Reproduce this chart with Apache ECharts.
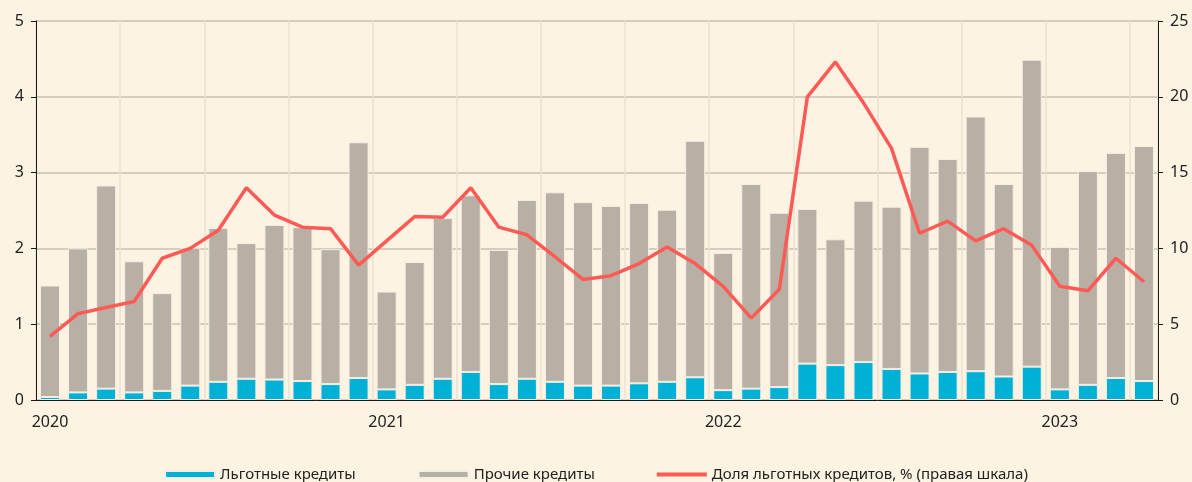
<!DOCTYPE html>
<html lang="ru">

<head>
    <meta charset="UTF-8">
    <title>Льготные кредиты</title>
    <script src="https://cdn.jsdelivr.net/npm/echarts@6.0.0/dist/echarts.min.js"></script>
    <style>
        html, body { margin: 0; padding: 0; background: #fcf3e3; }
    </style>
</head>

<body>
    <div id="main" style="width: 1192px; height: 482px;"></div>
    <script type="text/javascript">
        // months, Jan 2020 .. Apr 2023
        const months = [
            '2020-01', '2020-02', '2020-03', '2020-04', '2020-05', '2020-06', '2020-07', '2020-08', '2020-09', '2020-10', '2020-11', '2020-12',
            '2021-01', '2021-02', '2021-03', '2021-04', '2021-05', '2021-06', '2021-07', '2021-08', '2021-09', '2021-10', '2021-11', '2021-12',
            '2022-01', '2022-02', '2022-03', '2022-04', '2022-05', '2022-06', '2022-07', '2022-08', '2022-09', '2022-10', '2022-11', '2022-12',
            '2023-01', '2023-02', '2023-03', '2023-04'
        ];

        // Льготные кредиты (left axis)
        const preferential = [
            0.04, 0.10, 0.15, 0.10, 0.12, 0.19, 0.24, 0.28, 0.27, 0.25, 0.21, 0.29,
            0.14, 0.20, 0.28, 0.37, 0.21, 0.28, 0.24, 0.19, 0.19, 0.22, 0.24, 0.30,
            0.13, 0.15, 0.17, 0.48, 0.46, 0.50, 0.41, 0.35, 0.37, 0.38, 0.31, 0.44,
            0.14, 0.20, 0.29, 0.25
        ];

        // Прочие кредиты (stacked on top)
        const other = [
            1.47, 1.90, 2.68, 1.73, 1.29, 1.82, 2.03, 1.79, 2.04, 2.03, 1.78, 3.11,
            1.29, 1.62, 2.12, 2.33, 1.77, 2.36, 2.50, 2.42, 2.37, 2.38, 2.27, 3.12,
            1.81, 2.70, 2.30, 2.04, 1.66, 2.13, 2.14, 2.99, 2.81, 3.36, 2.54, 4.05,
            1.88, 2.82, 2.97, 3.10
        ];

        // Доля льготных кредитов, % (right axis)
        const share = [
            4.2, 5.7, 6.1, 6.5, 9.35, 10.0, 11.2, 14.0, 12.2, 11.4, 11.3, 8.9,
            10.5, 12.1, 12.05, 14.0, 11.4, 10.9, 9.45, 7.95, 8.2, 9.0, 10.1, 9.0,
            7.5, 5.4, 7.3, 20.0, 22.3, 19.6, 16.6, 11.0, 11.8, 10.5, 11.3, 10.2,
            7.5, 7.2, 9.35, 7.8
        ];

        const leftTicks = [0, 5, 1];   // min, max, interval
        const rightTicks = [0, 25, 5];

        const font = '"Noto Sans", "DejaVu Sans", sans-serif';
        const bg = '#fcf3e3';

        let myChart = echarts.init(document.getElementById('main'));

        const options = {
            backgroundColor: bg,
            animation: false,
            textStyle: { fontFamily: font },
            grid: { left: 36, right: 34, top: 21, bottom: 82 },
            legend: {
                top: 462,
                left: 'center',
                itemGap: 62,
                itemWidth: 50,
                itemHeight: 7,
                textStyle: { fontSize: 15, color: '#222', fontFamily: font },
                data: [
                    { name: 'Льготные кредиты', icon: 'rect' },
                    { name: 'Прочие кредиты', icon: 'rect' },
                    { name: 'Доля льготных кредитов, % (правая шкала)', icon: 'path://M0,4 L50,4 L50,8 L0,8 Z' }
                ]
            },
            xAxis: {
                type: 'category',
                data: months,
                boundaryGap: true,
                axisLine: { lineStyle: { color: '#1a1a1a', width: 1 } },
                axisTick: {
                    interval: (i) => i % 12 === 0,
                    length: 6,
                    lineStyle: { color: '#1a1a1a' }
                },
                axisLabel: {
                    interval: (i) => i % 12 === 0,
                    formatter: (v) => v.slice(0, 4),
                    fontSize: 16,
                    color: '#222',
                    margin: 14
                },
                splitLine: {
                    show: true,
                    interval: (i) => i % 3 === 0,
                    lineStyle: { color: '#ece2d0', width: 1.5 }
                }
            },
            yAxis: [
                {
                    type: 'value',
                    min: leftTicks[0],
                    max: leftTicks[1],
                    interval: leftTicks[2],
                    axisLine: { show: true, lineStyle: { color: '#1a1a1a' } },
                    axisTick: { show: true, length: 5, lineStyle: { color: '#1a1a1a' } },
                    axisLabel: { fontSize: 16, color: '#222', margin: 12 },
                    splitLine: { lineStyle: { color: '#c9c1b4', width: 1.5 } }
                },
                {
                    type: 'value',
                    min: rightTicks[0],
                    max: rightTicks[1],
                    interval: rightTicks[2],
                    axisLine: { show: true, lineStyle: { color: '#1a1a1a' } },
                    axisTick: { show: true, length: 5, lineStyle: { color: '#1a1a1a' } },
                    axisLabel: { fontSize: 16, color: '#222', margin: 12 },
                    splitLine: { show: false }
                }
            ],
            series: [
                {
                    name: 'Льготные кредиты',
                    type: 'bar',
                    stack: 'loans',
                    barWidth: 20,
                    itemStyle: { color: '#00b1d5', borderColor: '#f4efe4', borderWidth: 1 },
                    data: preferential
                },
                {
                    name: 'Прочие кредиты',
                    type: 'bar',
                    stack: 'loans',
                    barWidth: 20,
                    itemStyle: { color: '#b8b0a4', borderColor: '#f4efe4', borderWidth: 1 },
                    data: other
                },
                {
                    name: 'Доля льготных кредитов, % (правая шкала)',
                    type: 'line',
                    yAxisIndex: 1,
                    symbol: 'none',
                    z: 5,
                    itemStyle: { color: '#ff5a55' },
                    lineStyle: { color: '#ff5a55', width: 3.5 },
                    data: share
                }
            ]
        };

        myChart.setOption(options);
    </script>
</body>

</html>
